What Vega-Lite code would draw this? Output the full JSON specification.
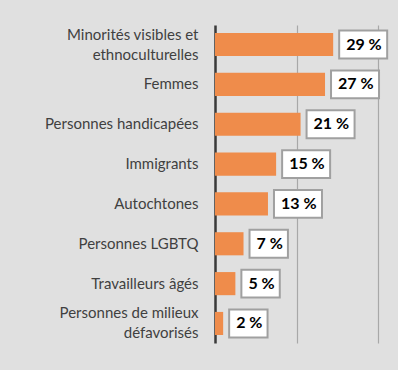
{
  "$schema": "https://vega.github.io/schema/vega-lite/v6.json",
  "autosize": "none",
  "width": 163,
  "height": 318,
  "padding": {"left": 215, "top": 25, "right": 20, "bottom": 27},
  "background": "#e0e0e0",
  "data": {
    "values": [
      {"groupe": "Minorités visibles et|ethnoculturelles", "valeur": 29, "etiquette": "29 %"},
      {"groupe": "Femmes", "valeur": 27, "etiquette": "27 %"},
      {"groupe": "Personnes handicapées", "valeur": 21, "etiquette": "21 %"},
      {"groupe": "Immigrants", "valeur": 15, "etiquette": "15 %"},
      {"groupe": "Autochtones", "valeur": 13, "etiquette": "13 %"},
      {"groupe": "Personnes LGBTQ", "valeur": 7, "etiquette": "7 %"},
      {"groupe": "Travailleurs âgés", "valeur": 5, "etiquette": "5 %"},
      {"groupe": "Personnes de milieux|défavorisés", "valeur": 2, "etiquette": "2 %"}
    ]
  },
  "encoding": {
    "y": {
      "field": "groupe",
      "type": "nominal",
      "sort": null,
      "scale": {"paddingInner": 0.42, "paddingOuter": 0.2},
      "axis": {
        "title": null,
        "ticks": false,
        "labelPadding": 17,
        "labelFont": "Lato",
        "labelFontSize": 15,
        "labelColor": "#404040",
        "labelLineHeight": 20,
        "labelExpr": "split(datum.value, '|')",
        "labelOffset": {"condition": {"test": "indexof(datum.value, '|') >= 0", "value": -10}, "value": 0},
        "domainColor": "#3a3a3a",
        "domainWidth": 2.5,
        "grid": false
      }
    },
    "x": {
      "field": "valeur",
      "type": "quantitative",
      "scale": {"domain": [0, 40]},
      "axis": {
        "title": null,
        "labels": false,
        "ticks": false,
        "domain": false,
        "values": [20, 40],
        "grid": true,
        "gridColor": "#a8a8a8",
        "gridWidth": 1.2
      }
    }
  },
  "layer": [
    {"mark": {"type": "bar", "color": "#ef8c4b"}},
    {
      "mark": {
        "type": "point",
        "filled": true,
        "fill": "white",
        "stroke": "#a0a0a0",
        "strokeWidth": 2,
        "opacity": 1,
        "size": 2304,
        "xOffset": 30
      },
      "encoding": {
        "shape": {
          "condition": {"test": "datum.valeur < 10", "value": "M-1,-0.58H0.6V0.58H-1Z"},
          "value": "M-1,-0.58H1V0.58H-1Z"
        }
      }
    },
    {
      "mark": {
        "type": "text",
        "align": "left",
        "baseline": "middle",
        "dx": 13,
        "font": "Lato",
        "fontWeight": "bold",
        "fontSize": 16,
        "color": "black"
      },
      "encoding": {"text": {"field": "etiquette", "type": "nominal"}}
    }
  ],
  "config": {"view": {"stroke": null}}
}
